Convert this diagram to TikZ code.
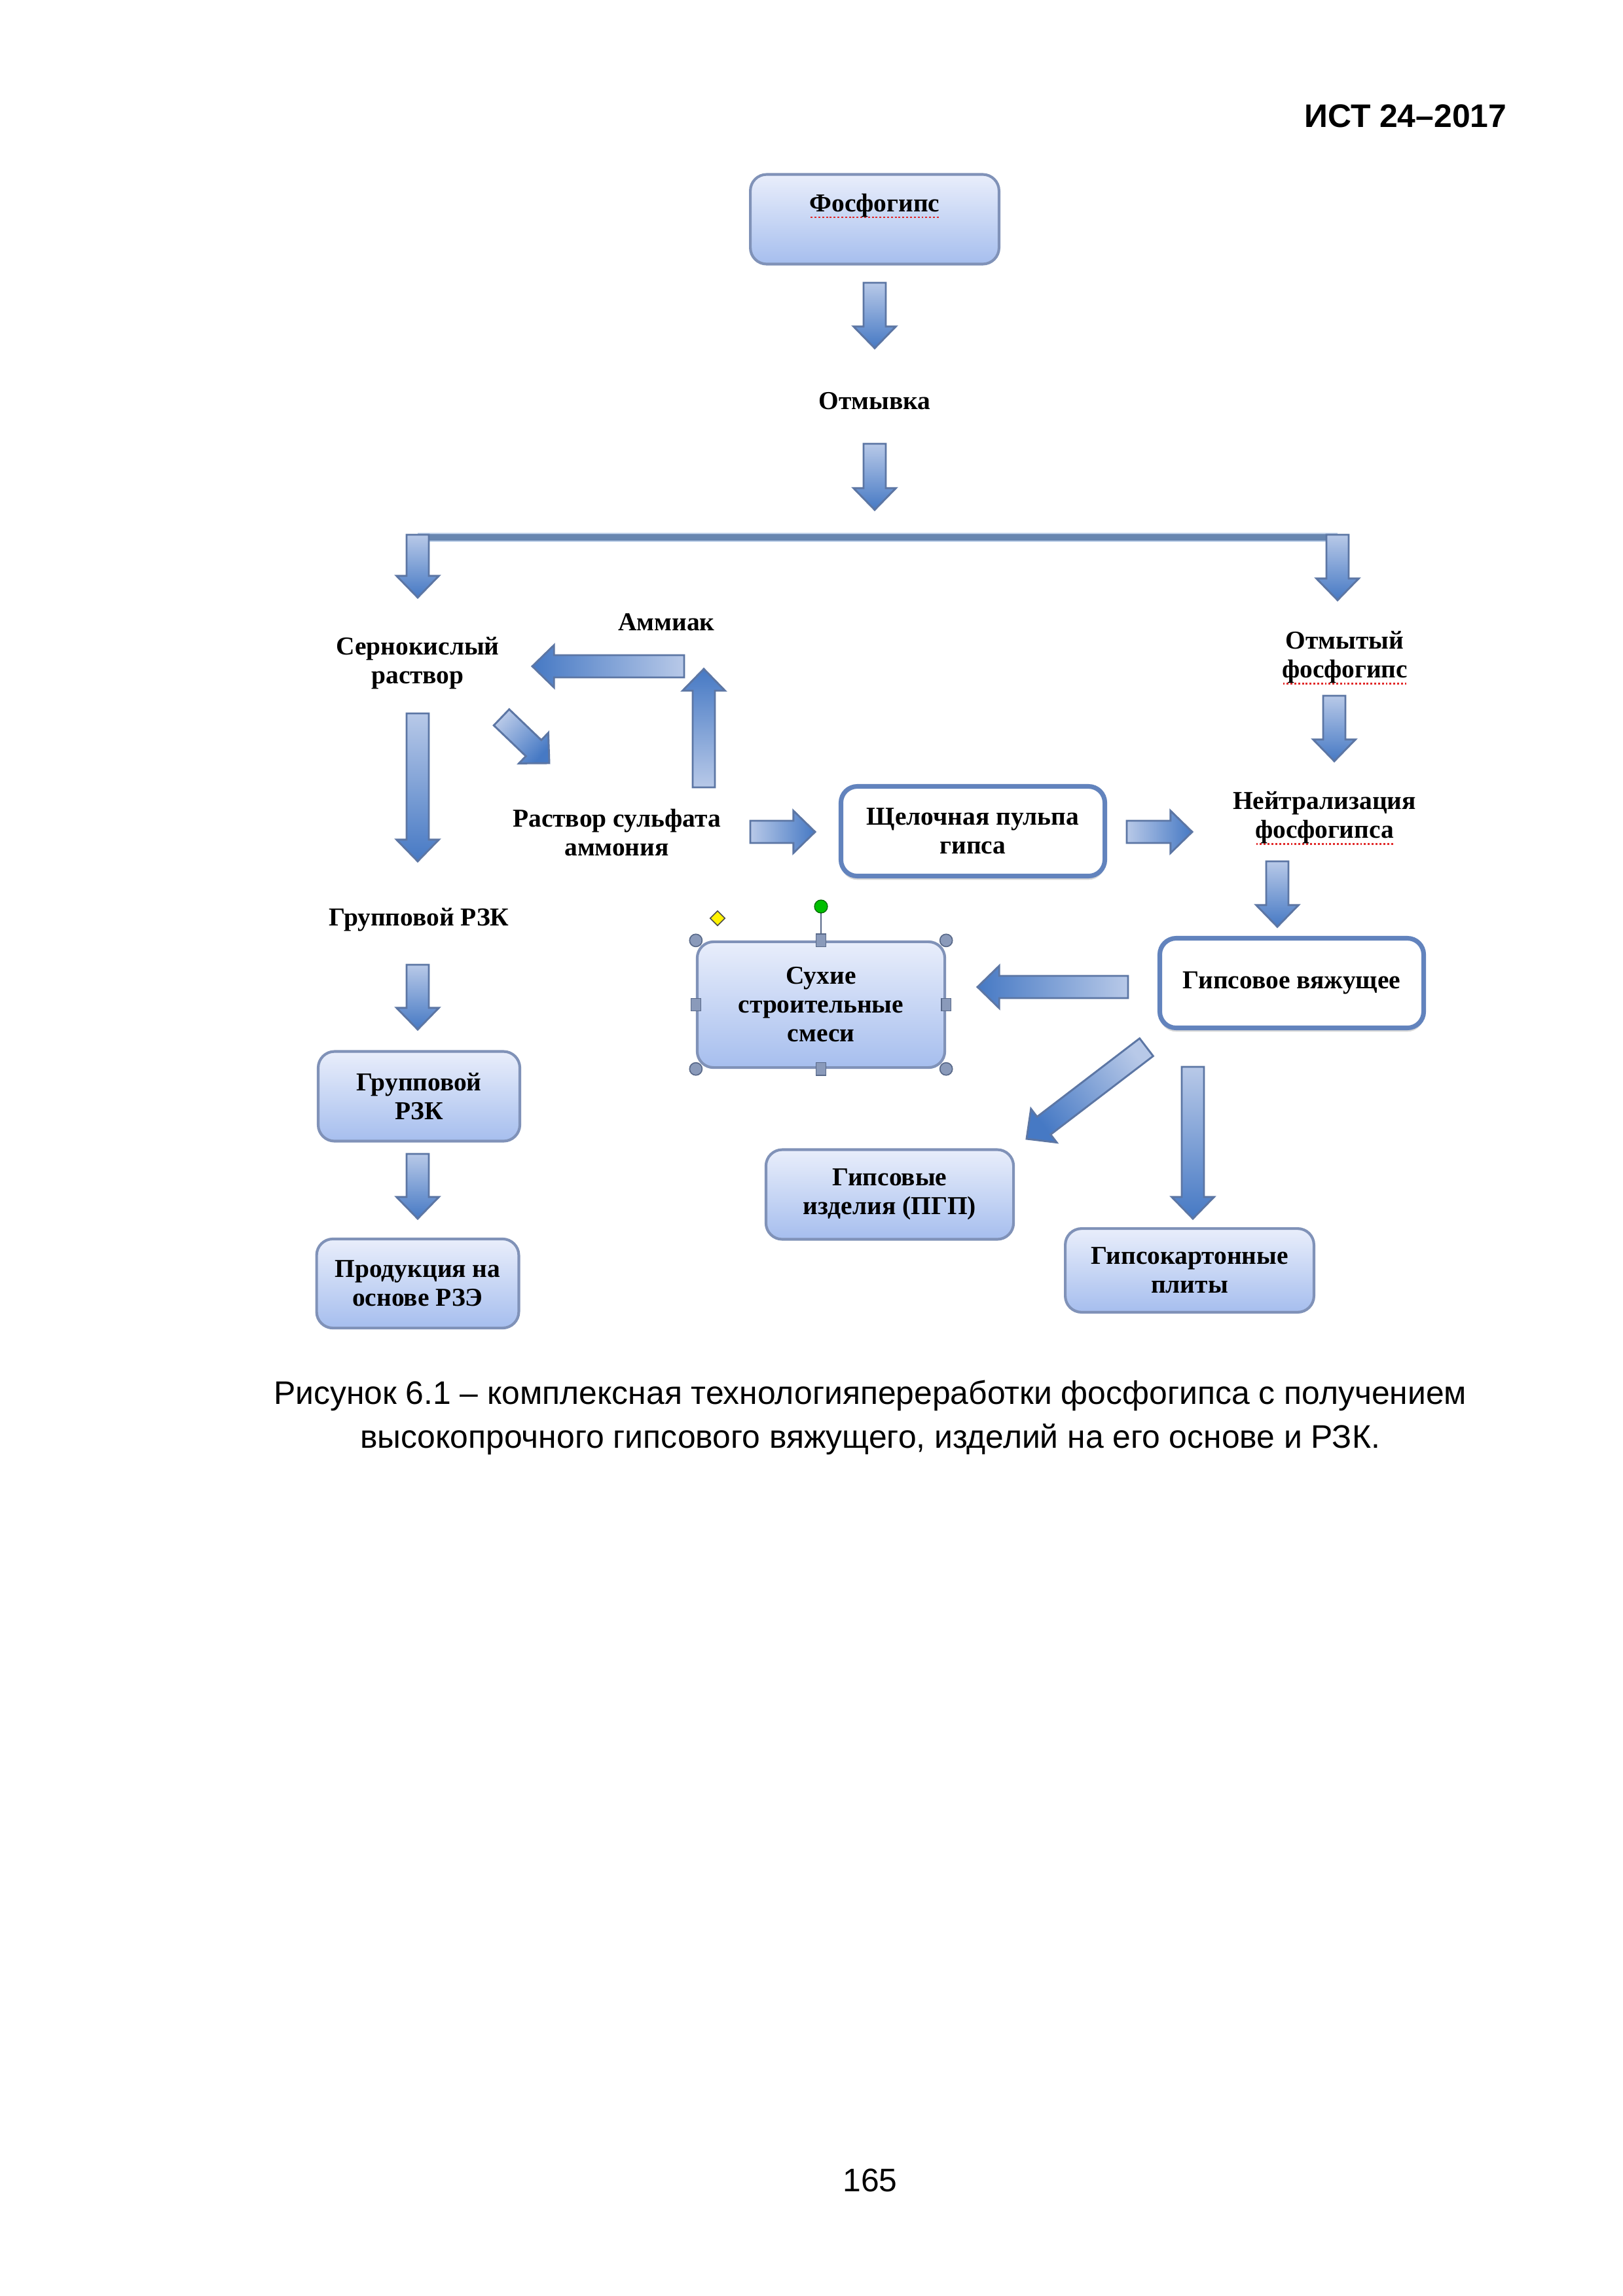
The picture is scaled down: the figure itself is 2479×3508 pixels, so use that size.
\documentclass[tikz,border=0pt]{standalone}
\usepackage{fontspec}
\setmainfont{Liberation Serif}
\newfontfamily\arialfont{Liberation Sans}
\usetikzlibrary{calc,shadows}

\definecolor{boxtop}{RGB}{233,238,251}
\definecolor{boxbot}{RGB}{166,190,238}
\definecolor{boxedge}{RGB}{128,146,184}
\definecolor{wedge}{RGB}{98,131,189}
\definecolor{arrdark}{RGB}{70,121,196}
\definecolor{arrlight}{RGB}{184,201,232}
\definecolor{arredge}{RGB}{92,118,164}
\definecolor{linecol}{RGB}{104,134,176}
\definecolor{linelight}{RGB}{190,208,232}
\definecolor{spellred}{RGB}{225,40,40}
\definecolor{handle}{RGB}{138,154,186}
\definecolor{handleedge}{RGB}{88,104,136}

\newcommand\dfont{\bfseries\fontsize{9.5}{10.6}\selectfont}
\newcommand\spell[1]{\setbox0=\hbox{#1}\leavevmode\rlap{\raisebox{-2.4pt}{\hbox to \wd0{\color{spellred}\xleaders\hbox to 1.4pt{\hss\rule{0.7pt}{0.6pt}\hss}\hfill}}}\box0}

\def\sw{4.1pt}\def\hw{7.8pt}\def\hl{8pt}
\newcommand\barrow[2]{%
  \pgfmathanglebetweenpoints{\pgfpointanchor{#1}{center}}{\pgfpointanchor{#2}{center}}%
  \pgfmathsetmacro\bsh{\pgfmathresult-90}%
  \path ($(#2)!\hl!(#1)$) coordinate (hb);
  \shade[blockarr, shading angle=\bsh] ($(#1)!\sw!90:(#2)$) -- ($(hb)!\sw!90:(#2)$) -- ($(hb)!\hw!90:(#2)$) -- (#2) -- ($(hb)!\hw!-90:(#2)$) -- ($(hb)!\sw!-90:(#2)$) -- ($(#1)!\sw!-90:(#2)$) -- cycle;
}

\tikzset{
  blockarr/.style={top color=arrdark, bottom color=arrlight, draw=arredge, line width=0.7pt, line join=miter},
  gbox/.style={rounded corners=6pt, draw=boxedge, line width=1pt, top color=boxtop, bottom color=boxbot, align=center, font=\dfont, inner sep=0pt},
  wbox/.style={rounded corners=6pt, draw=wedge, line width=1.7pt, fill=white, align=center, font=\dfont, inner sep=0pt,
     drop shadow={shadow xshift=0pt, shadow yshift=-1.4pt, opacity=0.25, fill=black!60}},
  lbl/.style={align=center, font=\dfont, inner sep=1pt},
  hcirc/.style={fill=handle, draw=handleedge, line width=0.4pt},
  hsq/.style={fill=handle, draw=handleedge, line width=0.4pt},
}

\begin{document}
\begin{tikzpicture}[x=0.2409pt, y=-0.2409pt]
\useasboundingbox (0,0) rectangle (2479,3508);
\fill[white] (0,0) rectangle (2479,3508);

% header, caption, page number
\node[anchor=east, font=\arialfont\bfseries\fontsize{12}{14}\selectfont, inner sep=0pt] (hdr) at (2302,177) {ИСТ 24–2017};
\node[align=center, font=\arialfont\fontsize{12}{16.1}\selectfont, inner sep=0pt] (cap) at (1329,2166)
  {Рисунок 6.1 – комплексная технологияпереработки фосфогипса с получением\\высокопрочного гипсового вяжущего, изделий на его основе и РЗК.};
\node[font=\arialfont\fontsize{12}{14}\selectfont, inner sep=0pt] (pg) at (1329,3331) {165};

% boxes
\node[gbox, minimum width=91.5pt, minimum height=33pt, text height=7pt, text depth=12.6pt] (fg) at (1336,335) {\spell{Фосфогипс}};
\node[wbox, minimum width=97.1pt, minimum height=33pt] (shp) at (1486,1270) {Щелочная пульпа\\гипса};
\node[wbox, minimum width=97.1pt, minimum height=33pt] (gv) at (1973,1502) {Гипсовое вяжущее};
\node[gbox, minimum width=91.1pt, minimum height=46.3pt] (sux) at (1254,1535) {Сухие\\строительные\\смеси};
\node[gbox, minimum width=74.2pt, minimum height=33pt] (grb) at (640,1675) {Групповой\\РЗК};
\node[gbox, minimum width=74.4pt, minimum height=32.8pt] (prod) at (638,1961) {Продукция на\\основе РЗЭ};
\node[gbox, minimum width=91.1pt, minimum height=33pt] (gi) at (1359,1825) {Гипсовые\\изделия (ПГП)};
\node[gbox, minimum width=91.5pt, minimum height=30.8pt] (gk) at (1817,1941) {Гипсокартонные\\плиты};

% plain labels
\node[lbl] (otm) at (1336,613) {Отмывка};
\node[lbl] (ser) at (638,1013) {Сернокислый\\раствор};
\node[lbl] (amm) at (1018,951) {Аммиак};
\node[lbl] (rsa) at (942,1272) {Раствор сульфата\\аммония};
\node[lbl] (ofg) at (2054,1005) {Отмытый\\\spell{фосфогипс}};
\node[lbl] (nf) at (2023,1250) {Нейтрализация\\\spell{фосфогипса}};
\node[lbl] (grt) at (640,1405) {Групповой РЗК};

% arrow end points
\coordinate (a1s) at (1336,432);  \coordinate (a1e) at (1336,532);
\coordinate (a2s) at (1336,678);  \coordinate (a2e) at (1336,779);
\coordinate (hl) at (638,821);    \coordinate (hr) at (2043,821);
\coordinate (a3s) at (638,817);   \coordinate (a3e) at (638,913);
\coordinate (a4s) at (2043,817);  \coordinate (a4e) at (2043,917);
\coordinate (a5s) at (1045,1018); \coordinate (a5e) at (813,1018);
\coordinate (a6s) at (1075,1203); \coordinate (a6e) at (1075,1022);
\coordinate (a7s) at (766,1096);  \coordinate (a7e) at (839,1166);
\coordinate (a8s) at (638,1090);  \coordinate (a8e) at (638,1316);
\coordinate (a9s) at (1146,1271); \coordinate (a9e) at (1245,1271);
\coordinate (a10s) at (1721,1271); \coordinate (a10e) at (1821,1271);
\coordinate (a11s) at (2038,1063); \coordinate (a11e) at (2038,1163);
\coordinate (a12s) at (1951,1316); \coordinate (a12e) at (1951,1416);
\coordinate (a13s) at (1723,1508); \coordinate (a13e) at (1493,1508);
\coordinate (a14s) at (638,1474);  \coordinate (a14e) at (638,1573);
\coordinate (a15s) at (638,1763);  \coordinate (a15e) at (638,1862);
\coordinate (a16s) at (1751,1600); \coordinate (a16e) at (1568,1740);
\coordinate (a17s) at (1822,1630); \coordinate (a17e) at (1822,1862);

% splitting line
\draw[linelight, line width=3.4pt] (hl) -- (hr);
\draw[linecol, line width=2.2pt] (hl) -- (hr);

% block arrows
\barrow{a1s}{a1e}
\barrow{a2s}{a2e}
\barrow{a3s}{a3e}
\barrow{a4s}{a4e}
\barrow{a5s}{a5e}
\barrow{a6s}{a6e}
\barrow{a7s}{a7e}
\barrow{a8s}{a8e}
\barrow{a9s}{a9e}
\barrow{a10s}{a10e}
\barrow{a11s}{a11e}
\barrow{a12s}{a12e}
\barrow{a13s}{a13e}
\barrow{a14s}{a14e}
\barrow{a15s}{a15e}
\barrow{a16s}{a16e}
\barrow{a17s}{a17e}

% selection handles on the "Сухие строительные смеси" box
\coordinate (rot) at (1254,1385);
\coordinate (dia) at (1096,1403);
\draw[handleedge, line width=0.5pt] (rot) -- (sux.north);
\fill[green!75!black, draw=green!40!black, line width=0.3pt] (rot) circle (2.4pt);
\foreach \a in {north west, north east, south west, south east}
  \draw[hcirc] (sux.\a) circle (2.3pt);
\foreach \a in {north, south, west, east}
  \draw[hsq] ($(sux.\a)+(-1.8pt,-2.3pt)$) rectangle ($(sux.\a)+(1.8pt,2.3pt)$);
\draw[fill=yellow, draw=black!70, line width=0.4pt] ($(dia)+(0,2.7pt)$) -- ($(dia)+(2.7pt,0)$) -- ($(dia)+(0,-2.7pt)$) -- ($(dia)+(-2.7pt,0)$) -- cycle;
\end{tikzpicture}
\end{document}
